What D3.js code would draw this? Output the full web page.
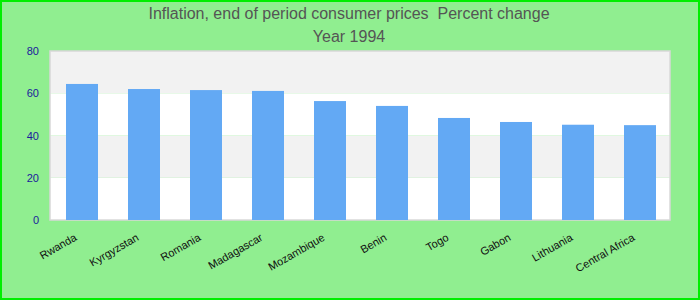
<!DOCTYPE html>
<html>
<head>
<meta charset="utf-8">
<script src="https://cdn.jsdelivr.net/npm/d3@7"></script>
<style>
  body { margin: 0; }
  svg { display: block; font-family: "Liberation Sans", Arial, sans-serif; }
</style>
</head>
<body>
<div id="chart"></div>
<script>
// data
let countries = ["Rwanda", "Kyrgyzstan", "Romania", "Madagascar", "Mozambique",
                 "Benin", "Togo", "Gabon", "Lithuania", "Central Africa"];
let inflation = [64.4, 62.0, 61.5, 61.1, 56.3, 54.0, 48.3, 46.4, 45.1, 44.9];
let yTicks = [0, 20, 40, 60, 80];
let titleLines = ["Inflation, end of period consumer prices  Percent change", "Year 1994"];

let W = 700, H = 300;
let margin = { top: 51, left: 50, right: 30, bottom: 80 },
  width = W - margin.left - margin.right,
  height = H - margin.top - margin.bottom;

let svg = d3.select('#chart')
  .append('svg')
  .attr('width', W)
  .attr('height', H);

// background + outer border
svg.append('rect')
  .attr('x', 1).attr('y', 1)
  .attr('width', W - 2).attr('height', H - 2)
  .attr('fill', '#90ee90')
  .attr('stroke', '#00ee00')
  .attr('stroke-width', 2);

// titles (keep the double space)
svg.selectAll('.title')
  .data(titleLines)
  .enter().append('text')
  .attr('class', 'title')
  .attr('x', W / 2 - 1)
  .attr('y', (d, i) => 19 + i * 23)
  .attr('text-anchor', 'middle')
  .attr('fill', '#555')
  .style('font-size', '16px')
  .style('white-space', 'pre')
  .text(d => d);

let g = svg.append('g')
  .attr('transform', 'translate(' + margin.left + ',' + margin.top + ')');

let x = d3.scaleBand()
  .domain(countries)
  .range([1, width + 1])
  .paddingInner(0.484)
  .paddingOuter(0.242);

let y = d3.scaleLinear()
  .domain([0, 80])
  .range([height, 0]);

// alternating bands
let bands = d3.pairs(yTicks);
g.selectAll('.band')
  .data(bands)
  .enter().append('rect')
  .attr('x', 0)
  .attr('y', d => y(d[1]))
  .attr('width', width)
  .attr('height', d => y(d[0]) - y(d[1]))
  .attr('fill', (d, i) => i % 2 ? '#f2f2f2' : '#ffffff');

// plot border
g.append('rect')
  .attr('x', 0).attr('y', 0)
  .attr('width', width).attr('height', height)
  .attr('fill', 'none')
  .attr('stroke', '#d8d8d8')
  .attr('stroke-width', 1.5);

// bars
g.selectAll('.bar')
  .data(countries)
  .enter().append('rect')
  .attr('class', 'bar')
  .attr('x', d => x(d))
  .attr('y', (d, i) => y(inflation[i]))
  .attr('width', x.bandwidth())
  .attr('height', (d, i) => height - y(inflation[i]))
  .attr('fill', '#63a9f4');

// y axis
let yAxis = g.append('g')
  .call(d3.axisLeft(y).tickValues(yTicks).tickSize(0).tickPadding(11));
yAxis.select('.domain').remove();
yAxis.selectAll('text')
  .attr('fill', '#1a1a9c')
  .style('font-size', '11px')
  .style('font-family', '"Liberation Sans", Arial, sans-serif');

// x axis
let xAxis = g.append('g')
  .attr('transform', 'translate(0,' + height + ')')
  .call(d3.axisBottom(x).tickSize(0));
xAxis.select('.domain').remove();
xAxis.selectAll('text')
  .attr('fill', '#111')
  .style('font-size', '11px')
  .style('font-family', '"Liberation Sans", Arial, sans-serif')
  .attr('text-anchor', 'end')
  .attr('dy', 0)
  .attr('transform', 'translate(-6,17) rotate(-30)');
</script>
</body>
</html>
